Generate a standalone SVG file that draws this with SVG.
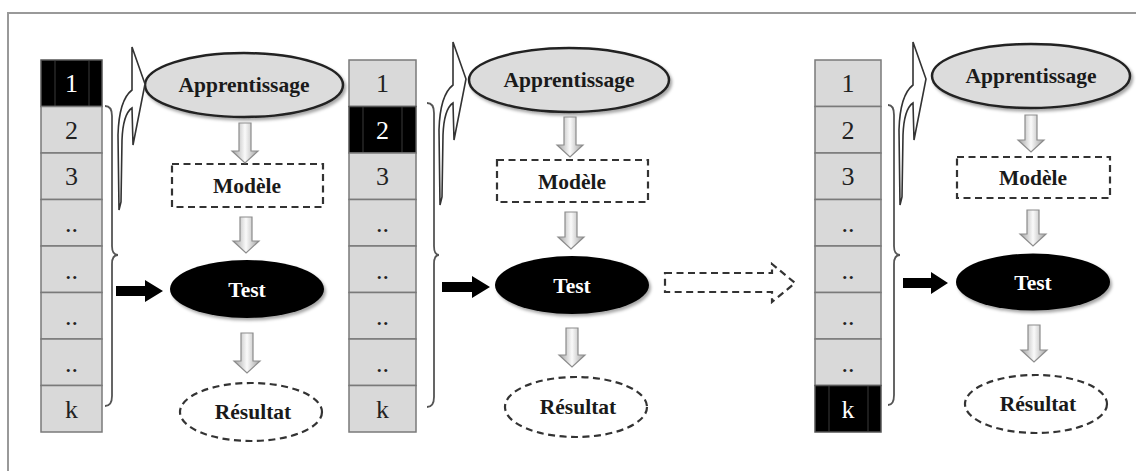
<svg xmlns="http://www.w3.org/2000/svg" width="1136" height="471" viewBox="0 0 1136 471">
<style>
.cell{fill:#d9d9d9;stroke:#7a7a7a;stroke-width:1.5}
.cellk{fill:#000;stroke:#555;stroke-width:1.5}
.inner{stroke:#3a3a3a;stroke-width:1}
.num{font-family:"Liberation Serif","DejaVu Serif",serif;font-size:26px;fill:#222;text-anchor:middle}
.numw{font-family:"Liberation Serif","DejaVu Serif",serif;font-size:26px;fill:#fff;text-anchor:middle}
.lbl{font-family:"Liberation Serif","DejaVu Serif",serif;font-size:21.5px;font-weight:bold;fill:#1a1a1a;text-anchor:middle}
.lblw{font-family:"Liberation Serif","DejaVu Serif",serif;font-size:21.5px;font-weight:bold;fill:#fff;text-anchor:middle}
.appr{fill:#dcdcdc;stroke:#222;stroke-width:2.5}
.test{fill:#000}
.dash{fill:none;stroke:#333;stroke-width:2.2;stroke-dasharray:7 4.5}
.garrow{fill:url(#gg);stroke:#8c8c8c;stroke-width:1.2}
.barrow{fill:#000}
.brace{fill:none;stroke:#555;stroke-width:1.8}
.curv{fill:#fff;stroke:#333;stroke-width:1.6;stroke-linejoin:miter}
</style>
<defs>
<linearGradient id="gg" x1="0" y1="0" x2="1" y2="0">
<stop offset="0" stop-color="#a0a0a0"/>
<stop offset="0.5" stop-color="#fafafa"/>
<stop offset="1" stop-color="#a0a0a0"/>
</linearGradient>
<filter id="sh" x="-10%" y="-20%" width="125%" height="150%">
<feDropShadow dx="2" dy="2.5" stdDeviation="1.5" flood-color="#000" flood-opacity="0.35"/>
</filter>
<path id="curved" d="M119,210 L118,135 Q119,100 132,90 L132,47 L145,84 L133,145 L132,108 Q123,114 122,140 L121,202 Z"/>
</defs>
<rect width="1136" height="471" fill="#fff"/>
<path d="M8,471 V13 H1136" fill="none" stroke="#999" stroke-width="2"/>

<!-- Fold 1 -->
<g id="fold1">
<g id="fold1-cells">
<rect class="cellk" x="41" y="60" width="61" height="46.5"/>
<line class="inner" x1="55" y1="61" x2="55" y2="106"/><line class="inner" x1="89" y1="61" x2="89" y2="106"/>
<rect class="cell" x="41" y="106.5" width="61" height="46.5"/>
<rect class="cell" x="41" y="153" width="61" height="46.5"/>
<rect class="cell" x="41" y="199.5" width="61" height="46.5"/>
<rect class="cell" x="41" y="246" width="61" height="46.5"/>
<rect class="cell" x="41" y="292.5" width="61" height="46.5"/>
<rect class="cell" x="41" y="339" width="61" height="46.5"/>
<rect class="cell" x="41" y="385.5" width="61" height="46.5"/>
<text class="numw" x="71.5" y="92">1</text>
<text class="num" x="71.5" y="139">2</text>
<text class="num" x="71.5" y="185">3</text>
<text class="num" x="71.5" y="232">..</text>
<text class="num" x="71.5" y="279">..</text>
<text class="num" x="71.5" y="325">..</text>
<text class="num" x="71.5" y="372">..</text>
<text class="num" x="71.5" y="418">k</text>
</g>
<g id="fold1-apprentissage"><ellipse class="appr" filter="url(#sh)" cx="244" cy="85" rx="99" ry="32"/><text class="lbl" x="244" y="92">Apprentissage</text></g>
<g id="fold1-modele"><rect class="dash" x="172" y="164" width="151" height="43"/><text class="lbl" x="247" y="193">Modèle</text></g>
<g id="fold1-test"><ellipse class="test" filter="url(#sh)" cx="247" cy="289" rx="77" ry="29"/><text class="lblw" x="247" y="297">Test</text></g>
<g id="fold1-resultat"><ellipse class="dash" cx="251" cy="412" rx="71" ry="29"/><text class="lbl" x="253" y="419">Résultat</text></g>
</g>

<!-- Fold 2 -->
<g id="fold2">
<g id="fold2-cells">
<rect class="cell" x="349" y="60" width="67" height="46.5"/>
<rect class="cellk" x="349" y="106.5" width="67" height="46.5"/>
<line class="inner" x1="363" y1="107" x2="363" y2="152"/><line class="inner" x1="402" y1="107" x2="402" y2="152"/>
<rect class="cell" x="349" y="153" width="67" height="46.5"/>
<rect class="cell" x="349" y="199.5" width="67" height="46.5"/>
<rect class="cell" x="349" y="246" width="67" height="46.5"/>
<rect class="cell" x="349" y="292.5" width="67" height="46.5"/>
<rect class="cell" x="349" y="339" width="67" height="46.5"/>
<rect class="cell" x="349" y="385.5" width="67" height="46.5"/>
<text class="num" x="382.5" y="92">1</text>
<text class="numw" x="382.5" y="139">2</text>
<text class="num" x="382.5" y="185">3</text>
<text class="num" x="382.5" y="232">..</text>
<text class="num" x="382.5" y="279">..</text>
<text class="num" x="382.5" y="325">..</text>
<text class="num" x="382.5" y="372">..</text>
<text class="num" x="382.5" y="418">k</text>
</g>
<g id="fold2-apprentissage"><ellipse class="appr" filter="url(#sh)" cx="569" cy="80" rx="100" ry="32"/><text class="lbl" x="569" y="87">Apprentissage</text></g>
<g id="fold2-modele"><rect class="dash" x="497" y="160" width="151" height="42"/><text class="lbl" x="572" y="189">Modèle</text></g>
<g id="fold2-test"><ellipse class="test" filter="url(#sh)" cx="572" cy="285" rx="77" ry="29"/><text class="lblw" x="572" y="293">Test</text></g>
<g id="fold2-resultat"><ellipse class="dash" cx="576" cy="407" rx="71" ry="30"/><text class="lbl" x="578" y="414">Résultat</text></g>
</g>

<!-- Fold k -->
<g id="foldk">
<g id="foldk-cells">
<rect class="cell" x="815" y="60" width="66" height="46.5"/>
<rect class="cell" x="815" y="106.5" width="66" height="46.5"/>
<rect class="cell" x="815" y="153" width="66" height="46.5"/>
<rect class="cell" x="815" y="199.5" width="66" height="46.5"/>
<rect class="cell" x="815" y="246" width="66" height="46.5"/>
<rect class="cell" x="815" y="292.5" width="66" height="46.5"/>
<rect class="cell" x="815" y="339" width="66" height="46.5"/>
<rect class="cellk" x="815" y="385.5" width="66" height="46.5"/>
<line class="inner" x1="829" y1="386" x2="829" y2="431"/><line class="inner" x1="868" y1="386" x2="868" y2="431"/>
<text class="num" x="848" y="92">1</text>
<text class="num" x="848" y="139">2</text>
<text class="num" x="848" y="185">3</text>
<text class="num" x="848" y="232">..</text>
<text class="num" x="848" y="279">..</text>
<text class="num" x="848" y="325">..</text>
<text class="num" x="848" y="372">..</text>
<text class="numw" x="848" y="418">k</text>
</g>
<g id="foldk-apprentissage"><ellipse class="appr" filter="url(#sh)" cx="1031" cy="76" rx="99" ry="32"/><text class="lbl" x="1031" y="83">Apprentissage</text></g>
<g id="foldk-modele"><rect class="dash" x="957" y="157" width="153" height="41"/><text class="lbl" x="1033" y="185">Modèle</text></g>
<g id="foldk-test"><ellipse class="test" filter="url(#sh)" cx="1033" cy="282" rx="77" ry="28.5"/><text class="lblw" x="1033" y="290">Test</text></g>
<g id="foldk-resultat"><ellipse class="dash" cx="1036" cy="404" rx="71" ry="29"/><text class="lbl" x="1038" y="411">Résultat</text></g>
</g>

<g id="connectors">
<!-- braces -->
<path class="brace" d="M105,106 Q112,106 112,116 V246 Q112,255 118,255 Q112,255 112,264 V396 Q112,406 105,406"/>
<path class="brace" d="M427,103 Q434,103 434,113 V246 Q434,255 439,255 Q434,255 434,264 V397 Q434,407 427,407"/>
<path class="brace" d="M888,105 Q894,105 894,115 V246 Q894,255 900,255 Q894,255 894,264 V395 Q894,405 888,405"/>
<!-- curved hollow arrows to Apprentissage -->
<use href="#curved" class="curv"/>
<use href="#curved" class="curv" transform="translate(321,-5)"/>
<use href="#curved" class="curv" transform="translate(781,-5)"/>
<!-- black arrows to Test -->
<path class="barrow" d="M116,286 H145 V280 L163,291 L145,302 V296 H116 Z"/>
<path class="barrow" d="M442,282 H472 V276 L490,287 L472,298 V292 H442 Z"/>
<path class="barrow" d="M903,278 H931 V272 L948,283 L931,294 V288 H903 Z"/>
<!-- gray hollow down arrows -->
<path class="garrow" d="M239,123 H251 V151 H258 L245,163 L232,151 H239 Z"/>
<path class="garrow" d="M240,217 H252 V241 H259 L246,253 L233,241 H240 Z"/>
<path class="garrow" d="M241,333 H253 V361 H260 L247,373 L234,361 H241 Z"/>
<path class="garrow" d="M564,117 H576 V145 H583 L570,157 L557,145 H564 Z"/>
<path class="garrow" d="M565,212 H577 V237 H584 L571,249 L558,237 H565 Z"/>
<path class="garrow" d="M566,328 H578 V355 H585 L572,367 L559,355 H566 Z"/>
<path class="garrow" d="M1025,115 H1037 V140 H1044 L1031,152 L1018,140 H1025 Z"/>
<path class="garrow" d="M1027,210 H1039 V234 H1046 L1033,246 L1020,234 H1027 Z"/>
<path class="garrow" d="M1028,325 H1040 V350 H1047 L1034,362 L1021,350 H1028 Z"/>
<!-- dashed hollow arrow between folds -->
<path class="dash" d="M665,273 H772 V264 L795,283 L772,302 V292 H665 Z"/>
</g>
</svg>
